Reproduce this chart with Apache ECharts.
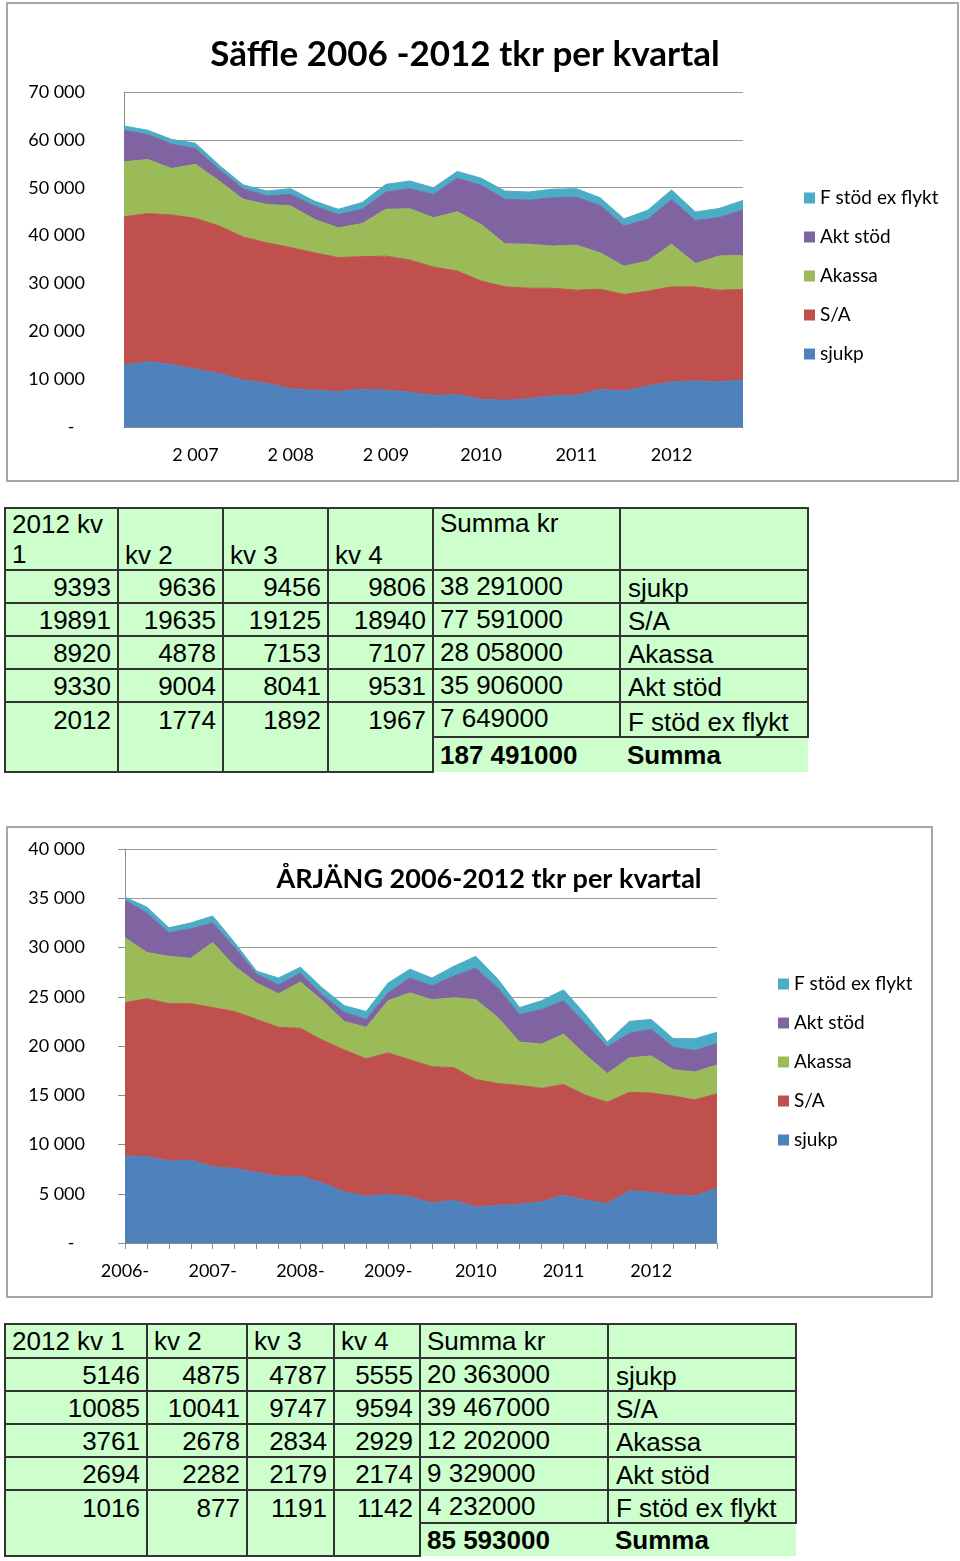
<!DOCTYPE html>
<html>
<head>
<meta charset="utf-8">
<script src="https://cdn.jsdelivr.net/npm/echarts/dist/echarts.min.js"></script>
<style>
  html, body { margin: 0; padding: 0; background: #fff; }
  body { width: 960px; height: 1561px; position: relative; overflow: hidden; }
  #c1 { position: absolute; left: 0; top: 0; width: 960px; height: 490px; }
  #c2 { position: absolute; left: 0; top: 820px; width: 960px; height: 485px; }
  table.t { position: absolute; border-collapse: collapse; table-layout: fixed;
            font-family: 'Liberation Sans', Arial, sans-serif; font-size: 26px; color: #000; }
  table.t td { background: #ccffcc; border: 2px solid #333; padding: 0; white-space: nowrap;
               overflow: hidden; line-height: 28px; }
  table.t td.num { text-align: right; padding-right: 6px; vertical-align: middle; }
  table.t td.sum { text-align: left; padding-left: 6px; vertical-align: middle; }
  table.t td.nm { text-align: left; padding-left: 7px; vertical-align: middle; }
  table.t td.hd { text-align: left; padding-left: 6px; }
  table.t td.tot { font-weight: bold; border: none; border-top: 2px solid #333; }
</style>
</head>
<body>
<div id="c1"></div>
<div id="c2"></div>
<table class="t" id="t1"></table>
<table class="t" id="t2"></table>
<script>
// ---------- DATA ----------
const seriesNames = ['sjukp', 'S/A', 'Akassa', 'Akt stöd', 'F stöd ex flykt'];
const seriesColors = ['#4F81BD', '#C0504D', '#9BBB59', '#8064A2', '#4BACC6'];

// Säffle: 2006 kv2 .. 2012 kv4
const categories1 = ['2006 kv2','2006 kv3','2006 kv4',
  '2007 kv1','2007 kv2','2007 kv3','2007 kv4',
  '2008 kv1','2008 kv2','2008 kv3','2008 kv4',
  '2009 kv1','2009 kv2','2009 kv3','2009 kv4',
  '2010 kv1','2010 kv2','2010 kv3','2010 kv4',
  '2011 kv1','2011 kv2','2011 kv3','2011 kv4',
  '2012 kv1','2012 kv2','2012 kv3','2012 kv4'];
const tickLabels1 = ['','','',
  '2 007','','','',
  '2 008','','','',
  '2 009','','','',
  '2010','','','',
  '2011','','','',
  '2012','','',''];
const sjukp1  = [12950,13650,13100,12050,11200,9800,9100,8000,7700,7400,7900,7700,7300,6600,6800,5800,5600,5900,6500,6600,7900,7500,8600,9393,9636,9456,9806];
const sa1     = [30950,30950,31200,31550,30800,29900,29400,29500,28700,28000,27700,28000,27600,26800,25800,24700,23700,23100,22500,22000,20900,20200,19800,19891,19635,19125,18940];
const akassa1 = [11500,11300,9700,11300,9400,7900,8000,8700,7000,6200,6900,9800,10700,10300,12400,11800,9000,9200,8800,9400,7600,5900,6300,8920,4878,7153,7107];
const akt1    = [6600,5200,5100,3300,2400,2200,1800,2400,2800,2800,3000,3600,4200,4900,7000,8200,9300,9200,10100,10000,9900,8400,8700,9330,9004,8041,9531];
const fstod1  = [900,900,1000,1100,900,800,1000,1200,1000,1100,1400,1600,1600,1400,1400,1500,1700,1700,1800,1800,1600,1500,1900,2012,1774,1892,1967];
const sums1 = ['38 291000','77 591000','28 058000','35 906000','7 649000'];
const total1 = '187 491000';

// Årjäng: 2006 kv1 .. 2012 kv4
const categories2 = ['2006 kv1','2006 kv2','2006 kv3','2006 kv4',
  '2007 kv1','2007 kv2','2007 kv3','2007 kv4',
  '2008 kv1','2008 kv2','2008 kv3','2008 kv4',
  '2009 kv1','2009 kv2','2009 kv3','2009 kv4',
  '2010 kv1','2010 kv2','2010 kv3','2010 kv4',
  '2011 kv1','2011 kv2','2011 kv3','2011 kv4',
  '2012 kv1','2012 kv2','2012 kv3','2012 kv4'];
const tickLabels2 = ['2006-','','','',
  '2007-','','','',
  '2008-','','','',
  '2009-','','','',
  '2010','','','',
  '2011','','','',
  '2012','','',''];
const sjukp2  = [8830,8760,8350,8420,7740,7570,7160,6790,6790,6110,5200,4750,4960,4690,4070,4350,3670,3840,3940,4180,4860,4350,4000,5300,5146,4875,4787,5555];
const sa2     = [15570,16040,15950,15880,16160,15930,15540,15110,15010,14490,14400,13950,14340,13910,13830,13450,12930,12360,12060,11520,11240,10650,10300,10000,10085,10041,9747,9594];
const akassa2 = [6600,4700,4800,4600,6600,4600,3700,3400,4700,4000,2900,3200,5300,6800,6800,7100,8100,6700,4400,4500,5100,4100,2900,3500,3761,2678,2834,2929];
const akt2    = [3800,4000,2400,3000,2000,1900,900,900,900,600,900,800,800,1500,1400,2200,3200,3000,2800,3500,3400,3200,2700,2500,2694,2282,2179,2174];
const fstod2  = [300,600,500,600,700,500,300,700,600,700,700,800,1000,900,800,1000,1200,900,700,900,1100,900,500,1200,1016,877,1191,1142];
const sums2 = ['20 363000','39 467000','12 202000','9 329000','4 232000'];
const total2 = '85 593000';

const tableHeader1 = ['2012 kv<br>1', 'kv 2', 'kv 3', 'kv 4', 'Summa kr', ''];
const tableHeader2 = ['2012 kv 1', 'kv 2', 'kv 3', 'kv 4', 'Summa kr', ''];
const totalLabel = 'Summa';

// ---------- CHARTS ----------
function fmtY(v) {
  if (v === 0) return '-\u2007';
  return String(v).replace(/\B(?=(\d{3})+(?!\d))/g, ' ');
}

function buildOption(c) {
  const series = c.data.map((d, i) => ({
    name: seriesNames[i],
    type: 'line',
    stack: 'total',
    data: d,
    symbol: 'none',
    smooth: false,
    lineStyle: { width: 1, color: seriesColors[i] },
    itemStyle: { color: seriesColors[i] },
    areaStyle: { color: seriesColors[i], opacity: 1 },
    emphasis: { disabled: true },
    silent: true
  }));
  return {
    animation: false,
    textStyle: { fontFamily: 'Lato' },
    grid: { left: c.gl, top: c.gt, width: c.gw, height: c.gh },
    legend: {
      orient: 'vertical', left: c.lx, top: c.ly,
      itemWidth: 11, itemHeight: 11, itemGap: 19, icon: 'rect',
      selectedMode: false,
      data: seriesNames.slice().reverse(),
      textStyle: { fontSize: 19, color: '#000', lineHeight: 20, fontFamily: 'Lato' }
    },
    xAxis: {
      type: 'category', boundaryGap: false, data: c.cats,
      axisLine: { show: true, lineStyle: { color: '#8c8c8c', width: 1 } },
      axisTick: { show: c.ticks, interval: 0, length: 6, lineStyle: { color: '#8c8c8c' } },
      axisLabel: { interval: 0, margin: 19, fontSize: 18, color: '#000', fontFamily: 'Lato',
                   formatter: (v, i) => c.labels[i] },
      splitLine: { show: false }
    },
    yAxis: {
      type: 'value', min: 0, max: c.max, interval: c.step,
      axisLine: { show: true, lineStyle: { color: '#8c8c8c', width: 1 } },
      axisTick: { show: c.ticks, length: 7, lineStyle: { color: '#8c8c8c' } },
      axisLabel: { margin: c.ym, fontSize: 18, color: '#000', fontFamily: 'Lato', formatter: fmtY },
      splitLine: { show: true, lineStyle: { color: '#9a9a9a', width: 1 } }
    },
    graphic: [
      { type: 'rect', shape: c.box, style: { fill: 'none', stroke: '#a6a6a6', lineWidth: 2 }, silent: true },
      { type: 'text', x: c.tx, y: c.ty, z: 100,
        style: { text: c.title, fontFamily: 'Lato', fontWeight: 'bold', fontSize: c.tfs,
                 fill: '#000', align: 'center', verticalAlign: 'middle' } }
    ],
    series: series
  };
}

const chart1 = echarts.init(document.getElementById('c1'), null, { renderer: 'canvas' });
chart1.setOption(buildOption({
  gl: 124, gt: 92, gw: 619, gh: 335,
  lx: 799, ly: 183,
  cats: categories1, labels: tickLabels1, ticks: false,
  max: 70000, step: 10000, ym: 39,
  box: { x: 7, y: 3, width: 951, height: 478 },
  title: 'Säffle 2006 -2012 tkr per kvartal', tx: 465, ty: 55, tfs: 35,
  data: [sjukp1, sa1, akassa1, akt1, fstod1]
}));

const chart2 = echarts.init(document.getElementById('c2'), null, { renderer: 'canvas' });
chart2.setOption(buildOption({
  gl: 125, gt: 29, gw: 592, gh: 394,
  lx: 773, ly: 149,
  cats: categories2, labels: tickLabels2, ticks: true,
  max: 40000, step: 5000, ym: 40,
  box: { x: 7, y: 7, width: 925, height: 470 },
  title: 'ÅRJÄNG 2006-2012 tkr per kvartal', tx: 489, ty: 59, tfs: 27,
  data: [sjukp2, sa2, akassa2, akt2, fstod2]
}));

// ---------- TABLES ----------
function buildTable(id, cfg) {
  const t = document.getElementById(id);
  t.style.left = cfg.left + 'px';
  t.style.top = cfg.top + 'px';
  let html = '<colgroup>' + cfg.widths.map(w => '<col style="width:' + w + 'px">').join('') + '</colgroup>';
  html += '<tr style="height:' + cfg.hh + 'px">';
  cfg.header.forEach((h, i) => {
    const va = cfg.headerVA[i];
    const extra = (i === 0 && cfg.twoLine) ? 'line-height:30px;' : '';
    html += '<td class="hd" style="vertical-align:' + va + ';' + extra + '">' + h + '</td>';
  });
  html += '</tr>';
  const n = cfg.data.length;
  for (let r = 0; r < n; r++) {
    const vals = cfg.data[r].slice(-4);
    const last = r === n - 1;
    html += '<tr style="height:' + cfg.rh[r] + 'px">';
    vals.forEach(v => {
      if (last) html += '<td class="num" rowspan="2" style="vertical-align:top;padding-top:3px">' + v + '</td>';
      else html += '<td class="num">' + v + '</td>';
    });
    html += '<td class="sum" style="vertical-align:top;padding-top:1px">' + cfg.sums[r] + '</td>';
    html += '<td class="nm" style="vertical-align:bottom;padding-bottom:0px">' + seriesNames[r] + '</td>';
    html += '</tr>';
  }
  html += '<tr style="height:' + cfg.rh[n] + 'px">';
  html += '<td class="sum tot">' + cfg.total + '</td>';
  html += '<td class="nm tot">' + totalLabel + '</td>';
  html += '</tr>';
  t.innerHTML = html;
}

buildTable('t1', {
  left: 4, top: 507,
  widths: [113, 105, 105, 105, 187, 188],
  hh: 62, rh: [33, 33, 33, 33, 35, 35],
  header: tableHeader1, headerVA: ['middle', 'bottom', 'bottom', 'bottom', 'top', 'top'], twoLine: true,
  data: [sjukp1, sa1, akassa1, akt1, fstod1],
  sums: sums1, total: total1
});
buildTable('t2', {
  left: 4, top: 1323,
  widths: [142, 100, 87, 86, 188, 188],
  hh: 34, rh: [33, 33, 33, 33, 33, 33],
  header: tableHeader2, headerVA: ['middle', 'middle', 'middle', 'middle', 'middle', 'middle'], twoLine: false,
  data: [sjukp2, sa2, akassa2, akt2, fstod2],
  sums: sums2, total: total2
});
</script>
</body>
</html>
